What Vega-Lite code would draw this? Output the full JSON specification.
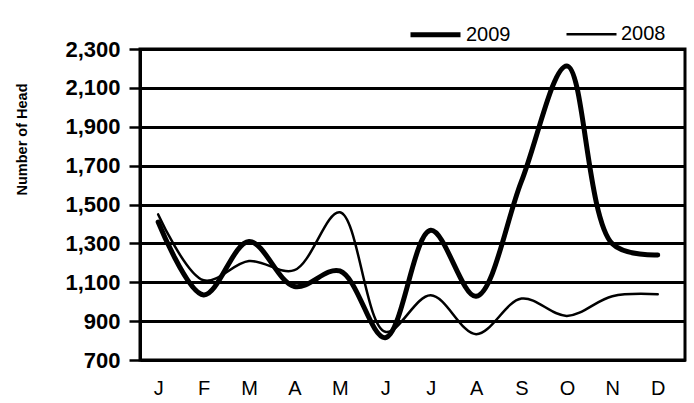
{
  "$schema": "https://vega.github.io/schema/vega-lite/v6.json",
  "autosize": {"type": "none"},
  "width": 545,
  "height": 311,
  "padding": {"left": 140, "top": 49, "right": 9, "bottom": 43},
  "background": "white",
  "config": {
    "view": {"stroke": "black", "strokeWidth": 3},
    "font": "Liberation Sans"
  },
  "data": {
    "values": [
      {"month": "Jan", "year": "2009", "value": 1410},
      {"month": "Feb", "year": "2009", "value": 1035},
      {"month": "Mar", "year": "2009", "value": 1310},
      {"month": "Apr", "year": "2009", "value": 1078},
      {"month": "May", "year": "2009", "value": 1158},
      {"month": "Jun", "year": "2009", "value": 815},
      {"month": "Jul", "year": "2009", "value": 1367},
      {"month": "Aug", "year": "2009", "value": 1028},
      {"month": "Sep", "year": "2009", "value": 1620},
      {"month": "Oct", "year": "2009", "value": 2213},
      {"month": "Nov", "year": "2009", "value": 1298},
      {"month": "Dec", "year": "2009", "value": 1240},
      {"month": "Jan", "year": "2008", "value": 1449},
      {"month": "Feb", "year": "2008", "value": 1110},
      {"month": "Mar", "year": "2008", "value": 1209},
      {"month": "Apr", "year": "2008", "value": 1162},
      {"month": "May", "year": "2008", "value": 1460},
      {"month": "Jun", "year": "2008", "value": 845},
      {"month": "Jul", "year": "2008", "value": 1033},
      {"month": "Aug", "year": "2008", "value": 833},
      {"month": "Sep", "year": "2008", "value": 1016},
      {"month": "Oct", "year": "2008", "value": 927},
      {"month": "Nov", "year": "2008", "value": 1028},
      {"month": "Dec", "year": "2008", "value": 1038}
    ]
  },
  "mark": {"type": "line", "interpolate": "catmull-rom", "color": "black", "strokeCap": "round"},
  "encoding": {
    "x": {
      "field": "month",
      "type": "ordinal",
      "sort": ["Jan","Feb","Mar","Apr","May","Jun","Jul","Aug","Sep","Oct","Nov","Dec"],
      "scale": {"type": "point", "padding": 0.5, "align": 0.4},
      "axis": {
        "title": null,
        "labelAngle": 0,
        "labelExpr": "substring(datum.label, 0, 1)",
        "ticks": false,
        "domain": true,
        "domainColor": "black",
        "domainWidth": 3,
        "labelFontSize": 20,
        "labelColor": "black",
        "labelPadding": 18,
        "labelFont": "Liberation Sans"
      }
    },
    "y": {
      "field": "value",
      "type": "quantitative",
      "scale": {"domain": [700, 2300], "nice": false, "zero": false},
      "axis": {
        "values": [700, 900, 1100, 1300, 1500, 1700, 1900, 2100, 2300],
        "format": ",.0f",
        "title": "Number of Head",
        "titleFont": "Liberation Sans",
        "titleFontSize": 14.5,
        "titleFontWeight": "bold",
        "titleColor": "black",
        "titleX": -111,
        "titleY": 90,
        "labelFont": "Liberation Sans",
        "labelFontSize": 22,
        "labelFontWeight": "bold",
        "labelColor": "black",
        "labelPadding": 9,
        "grid": true,
        "gridColor": "black",
        "gridWidth": 3,
        "gridOpacity": 1,
        "domainColor": "black",
        "domainWidth": 3,
        "tickColor": "black",
        "tickWidth": 2.5,
        "tickSize": 11
      }
    },
    "detail": {"field": "year"},
    "strokeWidth": {
      "field": "year",
      "type": "nominal",
      "scale": {"domain": ["2009", "2008"], "range": [5, 2.5]},
      "legend": {
        "title": null,
        "orient": "none",
        "direction": "horizontal",
        "legendX": 268,
        "legendY": -42,
        "symbolType": "stroke",
        "symbolStrokeColor": "black",
        "symbolSize": 2500,
        "labelFont": "Liberation Sans",
        "labelFontSize": 20,
        "labelColor": "black",
        "labelOffset": 3,
        "columnPadding": 50
      }
    }
  }
}
